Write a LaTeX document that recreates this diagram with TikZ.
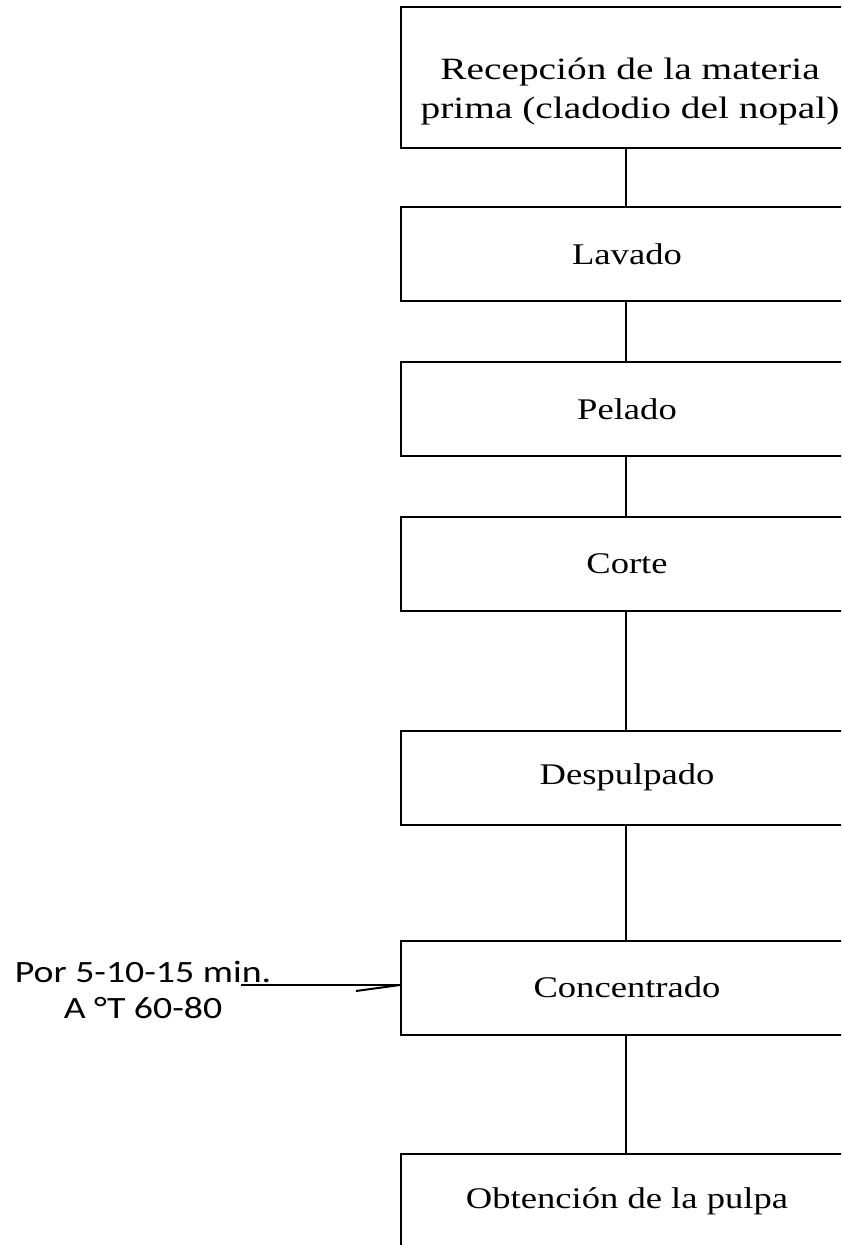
\documentclass[tikz,border=0pt]{standalone}
\usepackage{fontspec}
\setmainfont{Liberation Serif}
\newfontfamily\calib{Carlito}
\begin{document}
\begin{tikzpicture}[x=1pt,y=1pt,
  box/.style={draw=black, line width=2pt, rectangle, minimum width=452pt, minimum height=94pt, inner sep=0pt, align=center, font=\fontsize{30}{38}\selectfont},
  txt/.style={inner sep=0pt, align=center, font=\fontsize{31}{39}\selectfont},
  conn/.style={draw=black, line width=2pt},
  side/.style={inner sep=0pt, align=center, font=\calib\fontsize{31}{36}\selectfont}]
\useasboundingbox (0,0) rectangle (841,-1245);
\clip (0,0) rectangle (841,-1245);
\node[box, minimum height=141pt] (b1) at (627,-77.5) {};
\node[txt] (t1) at (630,-92) {\scalebox{1.27}[1]{Recepción de la materia}\\\scalebox{1.27}[1]{prima (cladodio del nopal)}};
\node[box] (b2) at (627,-254) {\scalebox{1.22}[1]{Lavado}};
\node[box] (b3) at (627,-409) {\scalebox{1.22}[1]{Pelado}};
\node[box] (b4) at (627,-564) {\scalebox{1.22}[1]{Corte}};
\node[box] (b5) at (627,-777.5) {\scalebox{1.22}[1]{Despulpado}};
\node[box] (b6) at (627,-987.5) {\scalebox{1.22}[1]{Concentrado}};
\node[box] (b7) at (627,-1201) {\scalebox{1.22}[1]{Obtención de la pulpa}};
\draw[conn] (b1.south -| 626,0) -- (b2.north -| 626,0);
\draw[conn] (b2.south -| 626,0) -- (b3.north -| 626,0);
\draw[conn] (b3.south -| 626,0) -- (b4.north -| 626,0);
\draw[conn] (b4.south -| 626,0) -- (b5.north -| 626,0);
\draw[conn] (b5.south -| 626,0) -- (b6.north -| 626,0);
\draw[conn] (b6.south -| 626,0) -- (b7.north -| 626,0);
\node[side] (lab) at (143,-990) {\scalebox{1.22}[1]{Por 5-10-15 min.}\\\scalebox{1.22}[1]{A °T 60-80}};
\coordinate (ls) at (241,-985);
\coordinate (tk) at (356,-991);
\draw[conn] (ls) -- (b6.west |- ls);
\draw[conn] (tk) -- (b6.west |- ls);
\end{tikzpicture}
\end{document}
